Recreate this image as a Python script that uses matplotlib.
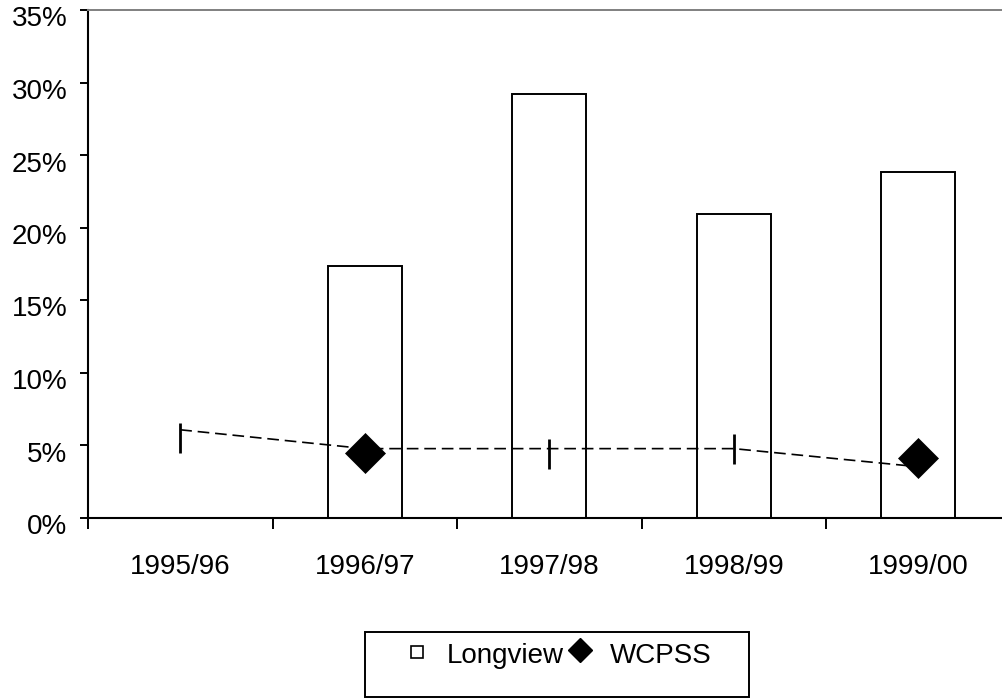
import matplotlib
matplotlib.use("Agg")
import matplotlib.pyplot as plt
import matplotlib.transforms as mtransforms
from matplotlib.patches import Rectangle
from matplotlib.lines import Line2D

# dados do grafico
anos = ["1995/96", "1996/97", "1997/98", "1998/99", "1999/00"]
longview = [None, 17.35, 29.2, 20.95, 23.85]
wcpss_linha = [6.05, 4.75, 4.75, 4.75, 3.5]
wcpss_pontos = [5.5, 4.45, 4.4, 4.7, 4.1]
pontos_losango = [1, 4]
pontos_traco = [0, 2, 3]

plt.rcParams["font.family"] = ["Liberation Sans", "DejaVu Sans"]
tam = 20

fig = plt.figure(figsize=(10.03, 6.98), dpi=100)
ax = fig.add_axes([88 / 1003, 180.5 / 698, 922.5 / 1003, 507.5 / 698])

xs = list(range(len(anos)))
for i, v in enumerate(longview):
    if v is not None:
        ax.bar(i, v, width=0.40, color="white", edgecolor="black", linewidth=1.4, zorder=2)

ax.plot(xs, wcpss_linha, color="black", linestyle="--", dashes=(7, 3.5), linewidth=1.2, zorder=3)
ax.plot([xs[i] for i in pontos_traco], [wcpss_pontos[i] for i in pontos_traco],
        linestyle="none", marker="|", markersize=21, markeredgewidth=2, color="black", zorder=4)
ax.plot([xs[i] for i in pontos_losango], [wcpss_pontos[i] for i in pontos_losango],
        linestyle="none", marker="D", markersize=20, markeredgewidth=0.5, color="black", zorder=4)

ax.set_xlim(-0.5, 4.5)
ax.set_ylim(0, 35)
ax.set_yticks([0, 5, 10, 15, 20, 25, 30, 35])
ax.set_yticklabels(["0%", "5%", "10%", "15%", "20%", "25%", "30%", "35%"])
ax.set_xticks([-0.5, 0.5, 1.5, 2.5, 3.5, 4.5])
ax.set_xticklabels([])
ax.set_xticks(xs, minor=True)
ax.set_xticklabels(anos, minor=True)
ax.tick_params(axis="x", which="major", direction="out", length=8, width=1.4)
ax.tick_params(axis="x", which="minor", length=0, pad=26, labelsize=tam)
ax.tick_params(axis="y", direction="out", length=6, width=1.4, pad=9, labelsize=tam)

# os rotulos do eixo y ficam um pouco abaixo das marcas
desloca = mtransforms.ScaledTranslation(0, -6.5 / 100, fig.dpi_scale_trans)
for lbl in ax.get_yticklabels():
    lbl.set_transform(lbl.get_transform() + desloca)

ax.spines["right"].set_visible(False)
ax.spines["top"].set_color("#808080")
ax.spines["top"].set_linewidth(1.4)
ax.spines["left"].set_linewidth(1.5)
ax.spines["bottom"].set_linewidth(1.5)

# legenda feita a mao
W, H = 1003, 698
fig.add_artist(Rectangle((365 / W, 1 - 697 / H), 384 / W, 65 / H, transform=fig.transFigure,
                         facecolor="white", edgecolor="black", linewidth=1.4))
fig.add_artist(Line2D([417 / W], [1 - 652 / H], marker="s", markersize=9, markerfacecolor="white",
                      markeredgecolor="black", markeredgewidth=1.2, linestyle="none",
                      transform=fig.transFigure))
fig.text(447 / W, 1 - 656 / H, "Longview", fontsize=tam, va="center", ha="left")
fig.add_artist(Line2D([580 / W], [1 - 650 / H], marker="D", markersize=12, color="black",
                      linestyle="none", transform=fig.transFigure))
fig.text(610 / W, 1 - 656 / H, "WCPSS", fontsize=tam, va="center", ha="left")

fig.savefig("out.png", dpi=100)
